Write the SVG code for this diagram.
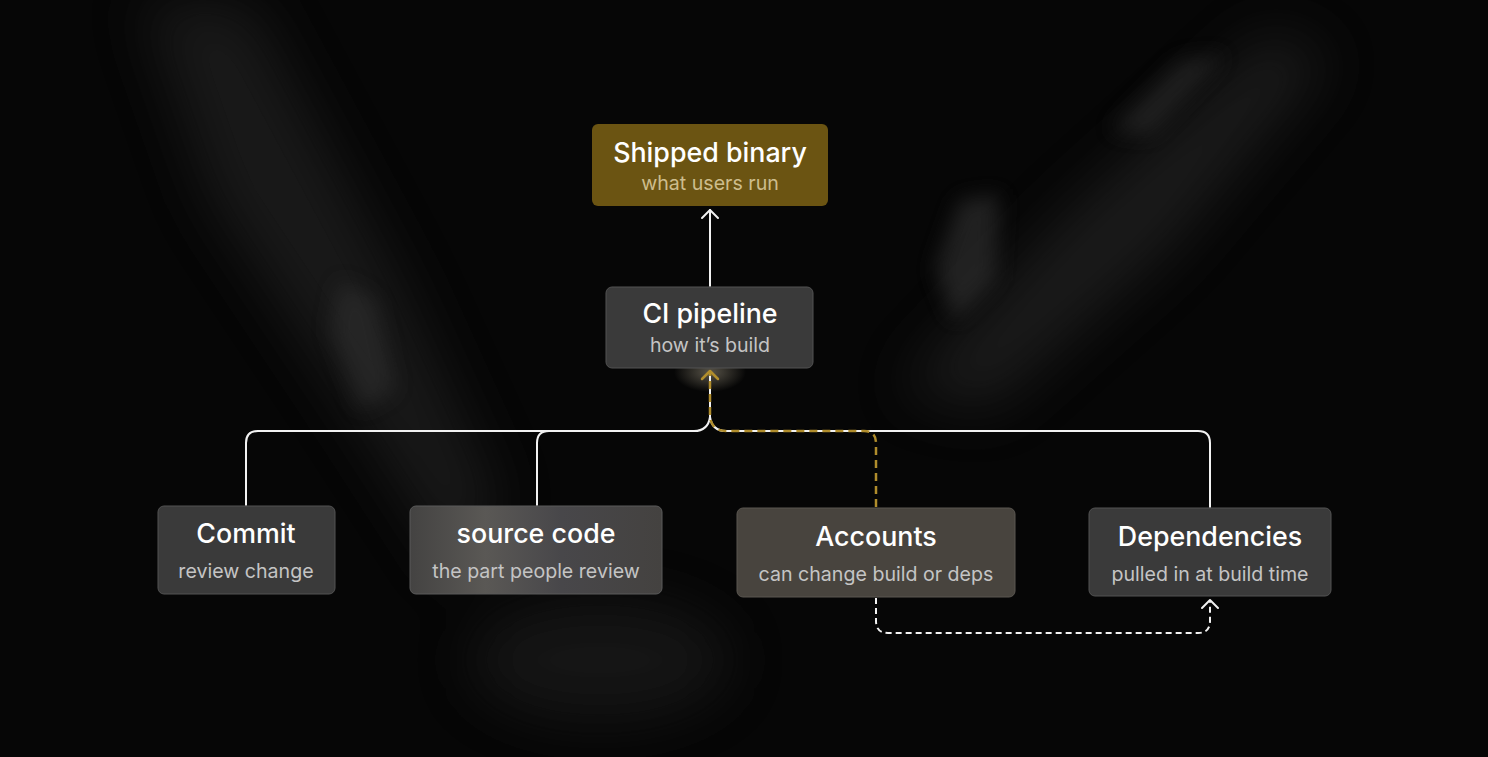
<svg xmlns="http://www.w3.org/2000/svg" width="1488" height="757" viewBox="0 0 1488 757">
  <defs>
    <style>
      .title { font-family: Inter, "Noto Sans", "Liberation Sans", sans-serif; font-size: 26.8px; font-weight: 500; fill: #ffffff; text-anchor: middle; }
      .sub { font-family: Inter, "Noto Sans", "Liberation Sans", sans-serif; font-size: 19.6px; fill: #c4c4c4; text-anchor: middle; }
      .sub-gold { fill: #cdbd8c; }
      .node { fill: #3a3a3a; stroke: #525252; stroke-width: 1; }
      .wire { fill: none; stroke: #f2f2f2; stroke-width: 2; stroke-linecap: round; stroke-linejoin: round; }
      .gold { fill: none; stroke: #b08d2c; stroke-width: 2.5; stroke-dasharray: 8 5; }
      .dash { fill: none; stroke: #f2f2f2; stroke-width: 2; stroke-dasharray: 6 4; }
      .head { fill: none; stroke: #f2f2f2; stroke-width: 2; stroke-linecap: round; stroke-linejoin: round; }
      .head-gold { fill: none; stroke: #b08d2c; stroke-width: 2.5; stroke-linecap: round; stroke-linejoin: round; }
    </style>
    <filter id="blur" x="-50%" y="-50%" width="200%" height="200%">
      <feGaussianBlur stdDeviation="28"/>
    </filter>
    <filter id="blur2" x="-50%" y="-50%" width="200%" height="200%">
      <feGaussianBlur stdDeviation="10"/>
    </filter>
    <linearGradient id="srcGrad" x1="0" y1="0" x2="1" y2="0">
      <stop offset="0" stop-color="#444342"/>
      <stop offset="0.3" stop-color="#5a5855"/>
      <stop offset="0.6" stop-color="#48474a"/>
      <stop offset="1" stop-color="#444240"/>
    </linearGradient>
    <radialGradient id="glow" cx="0.5" cy="0.5" r="0.5">
      <stop offset="0" stop-color="#bdb39a" stop-opacity="0.45"/>
      <stop offset="1" stop-color="#bdb39a" stop-opacity="0"/>
    </radialGradient>
  </defs>

  <!-- background -->
  <rect width="1488" height="757" fill="#060606"/>
  <g id="nebula" filter="url(#blur)" opacity="0.35">
    <path d="M140,0 L250,0 L400,280 L500,500 L460,580 L350,410 L210,200 Z" fill="#3a3a3a"/>
    <path d="M1270,30 L1330,60 L1170,250 L990,410 L900,390 L1060,220 Z" fill="#404040"/>
    <ellipse cx="600" cy="660" rx="130" ry="60" fill="#303030"/>
  </g>
  <g id="nebula-fine" filter="url(#blur2)" opacity="0.4">
    <path d="M960,200 L1000,195 L995,280 L955,320 L935,270 Z" fill="#4a4a4a"/>
    <path d="M1180,60 L1225,55 L1150,135 L1110,130 Z" fill="#3e3e3e"/>
    <path d="M340,280 L375,300 L395,390 L360,410 L330,330 Z" fill="#3a3a3a"/>
  </g>
  <ellipse cx="710" cy="372" rx="36" ry="20" fill="url(#glow)"/>

  <!-- connectors -->
  <g id="connectors">
    <path class="wire" d="M710,286 V210"/>
    <path class="head" d="M702,218 L710,210 L718,218"/>
    <path class="wire" d="M246,505 V443 Q246,431 258,431 H694 Q708,431 710,417 V371"/>
    <path class="wire" d="M537,505 V443 Q537,431 549,431 H694"/>
    <path class="wire" d="M1210,507 V443 Q1210,431 1198,431 H726 Q712,431 710,417"/>
    <path class="gold" d="M876,507 V443 Q876,431 864,431 H726 Q712,431 710,417 V373"/>
    <path class="head-gold" d="M702,379 L710,371 L718,379"/>
    <path class="dash" d="M876,598 V621 Q876,633 888,633 H1198 Q1210,633 1210,621 V601"/>
    <path class="head" d="M1202,608 L1210,600 L1218,608"/>
  </g>

  <!-- nodes -->
  <g id="shipped-binary">
    <rect x="592" y="124" width="236" height="82" rx="6" fill="#6b5412"/>
    <text class="title" x="710" y="162">Shipped binary</text>
    <text class="sub sub-gold" x="710" y="190">what users run</text>
  </g>
  <g id="ci-pipeline">
    <rect class="node" x="606" y="287" width="207" height="81" rx="6"/>
    <text class="title" x="710" y="323">CI pipeline</text>
    <text class="sub" x="710" y="352">how it’s build</text>
  </g>
  <g id="commit">
    <rect class="node" x="158" y="506" width="177" height="88" rx="6"/>
    <text class="title" x="246" y="543">Commit</text>
    <text class="sub" x="246" y="578">review change</text>
  </g>
  <g id="source-code">
    <rect x="410" y="506" width="252" height="88" rx="6" fill="url(#srcGrad)" stroke="#5a5a5a" stroke-width="1"/>
    <text class="title" x="536" y="543">source code</text>
    <text class="sub" x="536" y="578">the part people review</text>
  </g>
  <g id="accounts">
    <rect x="737" y="508" width="278" height="89" rx="6" fill="#48443e" stroke="#5a5650" stroke-width="1"/>
    <text class="title" x="876" y="546">Accounts</text>
    <text class="sub" x="876" y="581">can change build or deps</text>
  </g>
  <g id="dependencies">
    <rect class="node" x="1089" y="508" width="242" height="88" rx="6"/>
    <text class="title" x="1210" y="546">Dependencies</text>
    <text class="sub" x="1210" y="581">pulled in at build time</text>
  </g>
</svg>
